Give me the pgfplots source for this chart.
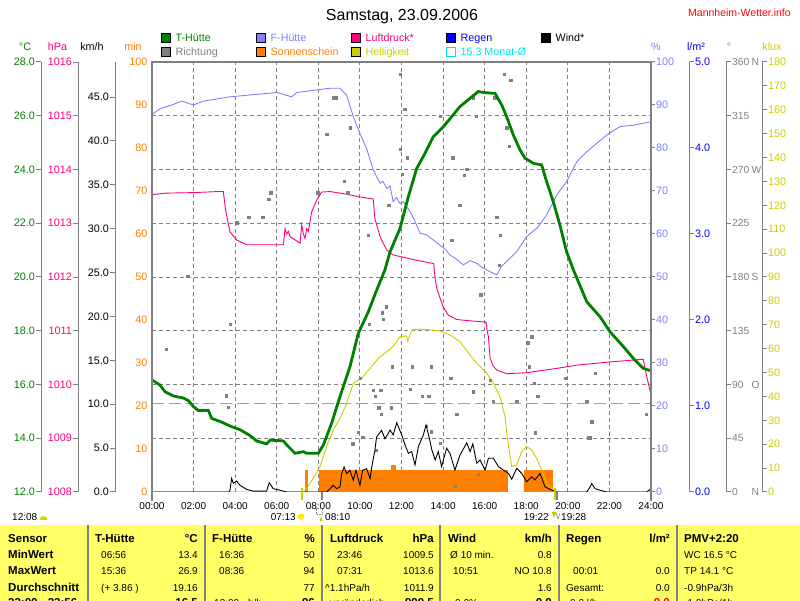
\documentclass[border=0pt]{standalone}
\usepackage{fontspec}
\setmainfont{Liberation Sans}
\usepackage{pgfplots}
\pgfplotsset{compat=1.18}

\definecolor{tgreen}{RGB}{0,128,0}
\definecolor{fblue}{RGB}{128,128,255}
\definecolor{lpink}{RGB}{255,0,128}
\definecolor{rblue}{RGB}{0,0,255}
\definecolor{dgray}{RGB}{128,128,128}
\definecolor{sonne}{RGB}{255,128,0}
\definecolor{hell}{RGB}{204,204,0}
\definecolor{mcyan}{RGB}{0,230,230}
\definecolor{tabyel}{RGB}{255,255,102}
\definecolor{webred}{RGB}{255,0,0}

\newcommand{\fs}[1]{\fontsize{#1}{#1}\selectfont}

\pgfplotsset{
  plotarea/.style={scale only axis, width=499pt, height=430pt, at={(152pt,109pt)}, anchor=south west, xmin=0, xmax=24, hide axis},
  scl/.style={scale only axis, width=1pt, height=430pt, anchor=south west, xmin=0, xmax=1, hide x axis,
     axis y line*=left, y axis line style={draw=dgray, line width=1pt, -},
     ytick style={draw=dgray, line width=1pt}, major tick length=5pt, tick align=outside,
     yticklabel style={font=\fs{10.8}, inner xsep=1pt}, minor tick num=0},
  sclr/.style={scl, axis y line*=right},
}

\newcommand{\tl}[3]{\node[anchor=base west,inner sep=0,font=\fs{10}] at (#1,#2) {#3};}
\newcommand{\tr}[3]{\node[anchor=base east,inner sep=0,font=\fs{10}] at (#1,#2) {#3};}
\newcommand{\tb}[3]{\node[anchor=base west,inner sep=0,font=\fs{11.5}\bfseries] at (#1,#2) {#3};}
\newcommand{\tbr}[3]{\node[anchor=base east,inner sep=0,font=\fs{11.5}\bfseries] at (#1,#2) {#3};}

\begin{document}
\begin{tikzpicture}[x=1pt,y=1pt]
% ---------- table background ----------
\fill[tabyel] (0,0) rectangle (800,76);
\foreach \sx in {88,205,322,440,559,677} \fill[dgray] (\sx-1,0) rectangle (\sx+1,76);

% ---------- grid + sunshine (min, 0..100) ----------
\begin{axis}[plotarea, ymin=0, ymax=100]
  \pgfplotsinvokeforeach{2,4,...,22}{\draw[dgray, dash pattern=on 4pt off 3pt, line width=0.9pt] (axis cs:#1,0) -- (axis cs:#1,100);}
  \pgfplotsinvokeforeach{12.5,25,37.5,50,62.5,75,87.5}{\draw[dgray, dash pattern=on 4pt off 3pt, line width=0.9pt] (axis cs:0,#1) -- (axis cs:24,#1);}
  \addplot[const plot, fill=sonne, draw=sonne, line width=0.8pt] coordinates {
    (0,0)(7.36,5)(7.49,0)(8.05,5)(11.53,6.2)(11.69,5)(17.09,0)(17.89,5)(18.96,0)(19.02,5)(19.12,0)(19.17,5)(19.27,0)(24,0)
  } \closedcycle;
\end{axis}

% ---------- brightness (klux 0..180) ----------
\begin{axis}[plotarea, ymin=0, ymax=180]
  \addplot[hell, line width=0.9pt] coordinates {
    (0,0)(7.28,0)(7.45,1.5)(7.6,3.6)(8.08,10.6)(8.4,19)(8.72,26)(9.04,30.8)(9.36,37.1)(9.68,45.5)(9.92,46.9)(10.08,47.6)
    (10.49,51.8)(10.89,56)(11.29,58.7)(11.6,61)(11.93,65)(12.25,65.3)(12.3,63)(12.49,67.8)(12.89,68.2)(13.85,67.5)
    (14.33,65.7)(14.81,62.9)(15.3,57.3)(15.62,53.9)(16.1,49.7)(16.42,45.5)(16.74,39.9)(16.98,31.5)(17.06,24.6)
    (17.3,10.6)(17.54,11.3)(17.78,16.9)(18.02,19)(18.26,17.6)(18.5,14.1)(18.74,9.2)(18.98,3.6)(19.3,0.8)(19.47,0)(24,0)
  };
\end{axis}

% ---------- humidity (%, 0..100) ----------
\begin{axis}[plotarea, ymin=0, ymax=100]
  \addplot[fblue, line width=0.9pt] coordinates {
    (0,87.8)(0.38,89.1)(0.95,90)(1.45,90.9)(1.99,90)(2.47,90.9)(3.75,91.9)(6.0,92.9)(6.72,91.9)(6.96,92.9)
    (8.56,93.9)(9.04,93.9)(9.36,92.3)(9.68,87.3)(10.0,83.4)(10.32,79.9)(10.64,74.9)(10.97,71.8)(11.1,72.3)(11.29,70.6)
    (11.45,71.2)(11.6,67.5)(11.75,68.5)(11.93,67.1)(12.09,67.5)(12.41,65.2)(12.6,63.5)(12.89,60.2)(13.2,59.8)(13.53,58.6)
    (13.85,57.4)(14.1,56.5)(14.33,55.1)(14.6,54.3)(14.97,52.8)(15.3,53.8)(15.62,53.2)(15.85,52.3)(16.1,51.6)(16.58,50.5)
    (16.8,52.4)(17.06,53.6)(17.54,55.9)(18.02,59.4)(18.5,61.3)(18.98,64.4)(19.47,69.1)(19.94,72.2)(20.43,76.8)
    (20.91,79.1)(21.39,81.1)(21.87,83)(22.51,85)(23.15,85.3)(24,86.1)
  };
\end{axis}

% ---------- pressure (hPa) ----------
\begin{axis}[plotarea, ymin=1008, ymax=1016]
  \addplot[lpink, line width=0.9pt] coordinates {
    (0,1013.53)(0.63,1013.56)(1.99,1013.57)(3.19,1013.59)(3.43,1013.59)(3.52,1013.3)(3.59,1013.15)(3.75,1012.84)
    (4.07,1012.69)(4.55,1012.6)(6.32,1012.6)(6.4,1012.9)(6.48,1012.8)(6.56,1012.85)(6.64,1012.75)(7.12,1012.63)
    (7.2,1012.97)(7.28,1012.8)(7.36,1012.72)(7.44,1012.9)(7.52,1012.85)(7.68,1013.21)(7.92,1013.43)(8.16,1013.58)
    (8.56,1013.59)(9.36,1013.54)(10.0,1013.49)(10.64,1013.45)(10.72,1013.09)(10.97,1012.75)(11.29,1012.5)
    (11.6,1012.41)(11.93,1012.38)(12.5,1012.33)(13.0,1012.29)(13.55,1012.25)(13.61,1012.0)(13.69,1011.8)
    (13.77,1011.7)(14.0,1011.45)(14.25,1011.29)(14.65,1011.21)(15.14,1011.19)(16.07,1011.16)(16.12,1011.0)
    (16.18,1010.89)(16.26,1010.49)(16.4,1010.35)(16.58,1010.27)(17.06,1010.2)(18.02,1010.22)(19.47,1010.3)
    (20.43,1010.36)(22.03,1010.42)(23.63,1010.47)(23.71,1010.3)(24,1009.8)
  };
\end{axis}

% ---------- wind direction (deg) ----------
\begin{axis}[plotarea, ymin=0, ymax=360]
  \addplot[only marks, mark=square*, mark size=1.1pt, dgray] coordinates {
    (0.67,119.7)(1.72,180.8)(3.56,80.6)(3.67,70.9)(3.78,140.4)(4.05,225.5)(4.1,225.5)(4.65,230.2)(5.3,230.2)(5.35,230.2)
    (5.61,245.3)(5.71,250.6)(7.97,250.6)(8.4,299.7)(8.72,330.1)(8.77,330.1)(8.85,330.1)(9.24,260.4)(9.38,250.6)(9.43,250.6)
    (9.55,305)(9.65,40.5)(9.91,50.2)(10.03,95.2)(10.13,45.8)(10.39,215.2)(10.45,140.4)(10.64,85.4)(10.72,80.4)(10.8,35.2)
    (10.9,70.6)(11.0,85.4)(11.03,65.3)(11.06,150.1)(11.13,144.8)(11.26,155.2)(11.38,240.3)(11.5,70.6)(11.56,104.9)
    (11.93,287.2)(11.93,350)(12.02,266)(12.15,320.4)(12.28,279.9)(12.41,86)(12.5,104.9)(12.99,80.4)(13.18,55.3)(13.31,80.4)
    (13.42,104.9)(13.44,50.5)(13.85,314.8)(13.85,40.8)(14.37,95.2)(14.41,210.7)(14.46,279.9)(14.57,5)(14.65,65.3)
    (14.78,240.3)(14.84,240.3)(15.01,265.4)(15.14,270.2)(15.46,330.1)(15.46,84)(15.58,314.8)(15.67,15.1)(15.81,165.2)
    (16.26,93.8)(16.42,75.6)(16.48,330.1)(16.58,230.2)(16.68,190)(16.74,215.2)(16.93,350)(17.06,305)(17.17,289.7)
    (17.25,345)(17.5,75.6)(17.55,75.6)(18.07,125)(18.15,104.9)(18.26,130)(18.37,91)(18.42,49.7)(18.55,80.4)(19.86,95.2)
    (20.91,75.6)(21.0,45.5)(21.05,45.5)(21.15,58.9)(21.3,99.6)(23.76,65.3)
  };
\end{axis}

% ---------- wind speed (km/h) ----------
\begin{axis}[plotarea, ymin=0, ymax=49]
  \addplot[black, line width=0.9pt] coordinates {
    (0,0)(3.7,0)(3.75,0.2)(3.83,1.56)(3.91,1.0)(4.07,1.25)(4.23,0.76)(4.55,0.3)(4.87,0.1)(5.51,0.1)(5.64,1.06)(5.83,0.38)
    (6.16,0.2)(6.48,0)(8.4,0)(8.72,0.76)(8.88,0.38)(9.04,0.57)(9.12,2.09)(9.24,2.85)(9.36,2.09)(9.52,2.47)(9.68,1.33)
    (9.81,2.47)(10.0,0.76)(10.13,2.47)(10.32,2.66)(10.49,1.52)(10.57,2.85)(10.72,4.75)(10.8,6.27)(11.04,7.03)(11.2,6.08)
    (11.36,6.65)(11.45,7.07)(11.6,6.5)(11.77,7.9)(11.85,7.44)(12.01,6.5)(12.17,5.36)(12.33,4.41)(12.49,4.6)(12.65,3.08)
    (12.81,5.16)(13.05,6.5)(13.18,7.63)(13.34,6.12)(13.46,4.79)(13.62,3.65)(13.77,4.6)(13.93,2.9)(14.17,4.98)(14.33,4.41)
    (14.57,2.5)(14.81,4.2)(15.14,5.6)(15.3,4.6)(15.43,5.5)(15.62,3.27)(15.78,3.65)(16.02,2.5)(16.18,3.84)(16.42,3.84)
    (16.66,2.9)(16.9,2.5)(17.14,2.13)(17.3,1.45)(17.54,2.7)(17.78,2.13)(18.02,1.17)(18.26,1.74)(18.42,1.37)(18.66,2.13)
    (18.9,0.6)(19.14,0.3)(19.47,0)(20.91,0)(21.07,0.57)(21.15,0.95)(21.31,0.38)(21.55,0.2)(21.87,0)(23.79,0)(24,0.38)
  };
\end{axis}

% ---------- temperature (degC) ----------
\begin{axis}[plotarea, ymin=12, ymax=28]
  \addplot[mcyan, line width=1pt, dash pattern=on 12pt off 5pt] coordinates {(0,15.3)(24,15.3)};
  \addplot[tgreen, line width=2.8pt] coordinates {
    (0,16.17)(0.38,15.98)(0.63,15.73)(1.03,15.57)(1.5,15.5)(1.75,15.4)(1.99,15.18)(2.23,15.03)(2.71,15.03)(2.87,14.74)
    (3.35,14.6)(3.83,14.43)(4.23,14.32)(4.71,14.1)(5.03,13.9)(5.51,13.79)(5.68,13.93)(6.32,13.9)(6.48,13.75)(6.88,13.44)
    (7.28,13.5)(7.44,13.44)(8.0,13.44)(8.24,13.75)(8.64,14.56)(9.04,15.55)(9.52,16.66)(9.92,17.9)(10.4,18.7)(10.8,19.5)
    (11.2,20.26)(11.45,20.94)(11.93,21.81)(12.33,22.99)(12.73,24.04)(13.13,24.6)(13.53,25.22)(14.01,25.59)(14.41,25.96)
    (14.81,26.34)(15.3,26.65)(15.69,26.9)(16.0,26.86)(16.5,26.83)(16.82,26.4)(17.06,25.96)(17.38,25.28)(17.7,24.73)
    (17.94,24.42)(18.34,24.23)(18.74,24.17)(18.98,23.55)(19.3,22.8)(19.62,21.93)(19.94,20.94)(20.27,20.26)(20.91,19.08)
    (21.55,18.52)(22.03,17.96)(22.67,17.41)(23.15,16.97)(23.63,16.6)(24,16.51)
  };
\end{axis}

% ---------- frame, time labels, sun markers ----------
\begin{axis}[scale only axis, width=499pt, height=430pt, at={(152pt,109pt)}, anchor=south west,
  xmin=0, xmax=24, ymin=0, ymax=100, clip=false, hide y axis, axis x line*=bottom,
  x axis line style={draw=none}, major tick length=0pt,
  xtick={0,2,...,24}, xticklabels={00:00,02:00,04:00,06:00,08:00,10:00,12:00,14:00,16:00,18:00,20:00,22:00,24:00},
  xticklabel style={font=\fs{10}, yshift=-7pt}]
  \draw[dgray, line width=2.3pt] (rel axis cs:0,-0.02) -- (rel axis cs:0,1) -- (rel axis cs:1,1) -- (rel axis cs:1,-0.02);
  \draw[hell, line width=2pt] (axis cs:7.217,-1.9) -- (axis cs:7.217,1);
  \draw[dgray, line width=1.5pt] (axis cs:8.167,-1.9) -- (axis cs:8.167,0);
  \draw[hell, line width=2pt] (axis cs:19.367,-1.9) -- (axis cs:19.367,1);
  \draw[dgray, line width=1.5pt] (axis cs:19.467,-1.9) -- (axis cs:19.467,0);
\end{axis}

% ---------- scales ----------
\begin{axis}[scl, at={(41pt,109pt)}, ymin=12, ymax=28, ytick={12,14,...,28},
  yticklabels={12.0,14.0,16.0,18.0,20.0,22.0,24.0,26.0,28.0}, yticklabel style={text=tgreen}]
\end{axis}
\begin{axis}[scl, at={(78pt,109pt)}, ymin=1008, ymax=1016, ytick={1008,1009,...,1016},
  yticklabels={1008,1009,1010,1011,1012,1013,1014,1015,1016}, yticklabel style={text=lpink}]
\end{axis}
\begin{axis}[scl, at={(115pt,109pt)}, ymin=0, ymax=49, ytick={0,5,...,45},
  yticklabels={0.0,5.0,10.0,15.0,20.0,25.0,30.0,35.0,40.0,45.0}, yticklabel style={text=black}]
\end{axis}
\begin{axis}[scl, at={(151pt,109pt)}, ymin=0, ymax=100, ytick={0,10,...,100}, major tick length=0pt,
  y axis line style={draw=none},
  yticklabels={0,10,20,30,40,50,60,70,80,90,100}, yticklabel style={text=sonne, inner xsep=3.5pt}]
\end{axis}
\begin{axis}[sclr, at={(650pt,109pt)}, ymin=0, ymax=100, ytick={0,10,...,100}, major tick length=4pt,
  yticklabels={0,10,20,30,40,50,60,70,80,90,100}, yticklabel style={text=fblue}]
\end{axis}
\begin{axis}[sclr, at={(688pt,109pt)}, ymin=0, ymax=5, ytick={0,1,...,5},
  yticklabels={0.0,1.0,2.0,3.0,4.0,5.0}, yticklabel style={text=rblue}]
\end{axis}
\begin{axis}[sclr, at={(725pt,109pt)}, ymin=0, ymax=360, ytick={0,45,...,360},
  yticklabels={{\makebox[19.5pt][l]{0}N},45,{\makebox[19.5pt][l]{90}O},135,{\makebox[19.5pt][l]{180}S},225,{\makebox[19.5pt][l]{270}W},315,{\makebox[19.5pt][l]{360}N}},
  yticklabel style={text=dgray, font=\fs{10.3}}]
\end{axis}
\begin{axis}[sclr, at={(761pt,109pt)}, ymin=0, ymax=180, ytick={0,10,...,180},
  yticklabels={0,10,20,30,40,50,60,70,80,90,100,110,120,130,140,150,160,170,180}, yticklabel style={text=hell}]
\end{axis}

% ---------- unit headers ----------
\begin{scope}[every node/.style={anchor=base, inner sep=0, font=\fs{10.8}}]
\node[text=tgreen] at (25,550.5) {°C};
\node[text=lpink] at (57.5,550.5) {hPa};
\node[text=black] at (92,550.5) {km/h};
\node[text=sonne] at (133,550.5) {min};
\node[text=fblue] at (656,550.5) {\%};
\node[text=rblue] at (696,550.5) {l/m²};
\node[text=dgray] at (729,550.5) {°};
\node[text=hell] at (772,550.5) {klux};
\end{scope}

% ---------- title ----------
\node[anchor=base, inner sep=0, font=\fs{16}] at (402,580) {Samstag, 23.09.2006};
\node[anchor=base west, inner sep=0, font=\fs{10.5}, text=webred] at (688,584) {Mannheim-Wetter.info};

% ---------- legend ----------
\begin{scope}[every node/.style={anchor=base west, inner sep=0, font=\fs{10.7}}]
\filldraw[fill=tgreen, draw=black, line width=0.8pt] (161.5,558.5) rectangle (170.5,567.5);
\node[text=tgreen] at (175.5,559.5) {T-Hütte};
\filldraw[fill=fblue, draw=black, line width=0.8pt] (256.5,558.5) rectangle (265.5,567.5);
\node[text=fblue] at (270.5,559.5) {F-Hütte};
\filldraw[fill=lpink, draw=black, line width=0.8pt] (351.5,558.5) rectangle (360.5,567.5);
\node[text=lpink] at (365.5,559.5) {Luftdruck*};
\filldraw[fill=rblue, draw=black, line width=0.8pt] (446.5,558.5) rectangle (455.5,567.5);
\node[text=rblue] at (460.5,559.5) {Regen};
\filldraw[fill=black, draw=black, line width=0.8pt] (541.5,558.5) rectangle (550.5,567.5);
\node[text=black] at (555.5,559.5) {Wind*};
\filldraw[fill=dgray, draw=black, line width=0.8pt] (161.5,544.5) rectangle (170.5,553.5);
\node[text=dgray] at (175.5,545.2) {Richtung};
\filldraw[fill=sonne, draw=black, line width=0.8pt] (256.5,544.5) rectangle (265.5,553.5);
\node[text=sonne] at (270.5,545.2) {Sonnenschein};
\filldraw[fill=hell, draw=black, line width=0.8pt] (351.5,544.5) rectangle (360.5,553.5);
\node[text=hell] at (365.5,545.2) {Helligkeit};
\draw[draw=mcyan, line width=0.8pt] (446.5,544.5) rectangle (455.5,553.5);
\node[text=mcyan] at (460.5,545.2) {15.3 Monat-Ø};
\end{scope}

% ---------- sunrise / sunset ----------
\begin{scope}[every node/.style={inner sep=0, font=\fs{10}}]
\node[anchor=base west] at (12,80) {12:08};
\fill[hell!80!yellow] (39.5,81) arc (180:0:4) -- cycle;
\node[anchor=base east] at (296,80) {07:13};
\fill[yellow!90!orange] (301,84.5) circle (3.2);
\draw[dgray, line width=0.6pt, densely dotted] (316,87) rectangle (322,93);
\fill[hell] (319.5,80) -- (322.5,80) -- (321,85) -- cycle;
\node[anchor=base west] at (325,80) {08:10};
\node[anchor=base east] at (549,80) {19:22};
\fill[hell] (551.5,89) -- (556.5,89) -- (554,83) -- cycle;
\draw[dgray, line width=0.6pt] (556,88) -- (558,82) -- (560,88);
\node[anchor=base west] at (561,80) {19:28};
\end{scope}

% ---------- table text ----------
\tb{8}{58}{Sensor}
\tb{8}{42.4}{MinWert}
\tb{8}{26.2}{MaxWert}
\tb{8}{9.8}{Durchschnitt}
\tb{8}{-6}{23:00 - 23:56}

\tb{95}{58}{T-Hütte}
\tbr{198}{58}{°C}
\tl{101}{42.4}{06:56} \tr{198}{42.4}{13.4}
\tl{101}{26.2}{15:36} \tr{198}{26.2}{26.9}
\tl{101}{9.8}{(+ 3.86 )} \tr{198}{9.8}{19.16}
\tbr{198}{-6}{16.5}

\tb{212}{58}{F-Hütte}
\tbr{315}{58}{\%}
\tl{219}{42.4}{16:36} \tr{315}{42.4}{50}
\tl{219}{26.2}{08:36} \tr{315}{26.2}{94}
\tr{315}{9.8}{77}
\tl{214}{-6}{13:00 - h/h} \tbr{315}{-6}{96}

\tb{330}{58}{Luftdruck}
\tbr{434}{58}{hPa}
\tl{337}{42.4}{23:46} \tr{434}{42.4}{1009.5}
\tl{337}{26.2}{07:31} \tr{434}{26.2}{1013.6}
\tl{325}{9.8}{\textasciicircum 1.1hPa/h} \tr{434}{9.8}{1011.9}
\tl{330}{-6}{veränderlich} \tbr{434}{-6}{999.5}

\tb{448}{58}{Wind}
\tbr{552}{58}{km/h}
\tl{450}{42.4}{Ø 10 min.} \tr{552}{42.4}{0.8}
\tl{453}{26.2}{10:51} \tr{552}{26.2}{NO 10.8}
\tr{552}{9.8}{1.6}
\tl{455}{-6}{0.0\%} \tbr{552}{-6}{0.0}

\tb{566}{58}{Regen}
\tbr{670}{58}{l/m²}
\tl{573}{26.2}{00:01} \tr{670}{26.2}{0.0}
\tl{566}{9.8}{Gesamt:} \tr{670}{9.8}{0.0}
\tl{570}{-6}{0.0 l/h} \node[anchor=base east,inner sep=0,font=\fs{11.5}\bfseries,text=webred] at (670,-6) {0.0};

\tb{684}{58}{PMV+2:20}
\tl{684}{42.4}{WC 16.5 °C}
\tl{684}{26.2}{TP 14.1 °C}
\tl{684}{9.8}{-0.9hPa/3h}
\tl{684}{-6}{-1.0hPa/1h}

\pgfresetboundingbox
\path[use as bounding box] (0,0) rectangle (800,601);
\end{tikzpicture}
\end{document}
